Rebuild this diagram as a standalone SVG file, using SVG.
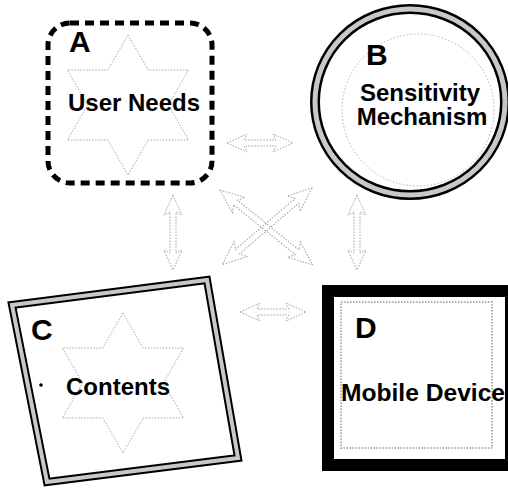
<svg xmlns="http://www.w3.org/2000/svg" width="508" height="489" viewBox="0 0 508 489">
<style>
  .lbl{font-family:"Liberation Sans",Arial,sans-serif;font-weight:bold;fill:#000}
  .big{font-size:30px}
  .txt{font-size:24px}
  .star{fill:none;stroke:#a8a8a8;stroke-width:1;stroke-dasharray:1.5 1.5}
  .conn{fill:none;stroke:#a0a0a0;stroke-width:1;stroke-dasharray:1.5 1.5}
</style>
<defs>
  <path id="star" d="M0,-70 L20.2,-35 L60.6,-35 L40.4,0 L60.6,35 L20.2,35 L0,70 L-20.2,35 L-60.6,35 L-40.4,0 L-60.6,-35 L-20.2,-35 Z"/>
</defs>
<rect width="508" height="489" fill="#fff"/>

<g id="connectors">
  <path class="conn" transform="translate(227,143)" d="M0,0 L20,-9 L17,-3 L49,-3 L46,-9 L66,0 L46,9 L49,3 L17,3 L20,9 Z"/>
  <path class="conn" transform="translate(240,312)" d="M0,0 L20,-9 L17,-3 L49,-3 L46,-9 L66,0 L46,9 L49,3 L17,3 L20,9 Z"/>
  <path class="conn" transform="translate(173,195) rotate(90)" d="M0,0 L20,-9 L17,-3 L58,-3 L55,-9 L75,0 L55,9 L58,3 L17,3 L20,9 Z"/>
  <path class="conn" transform="translate(357,195) rotate(90)" d="M0,0 L20,-9 L17,-3 L58,-3 L55,-9 L75,0 L55,9 L58,3 L17,3 L20,9 Z"/>
  <path class="conn" transform="translate(220,190) rotate(38.9)" d="M0,0 L24,-10 L20,-3 L99,-3 L95,-10 L119,0 L95,10 L99,3 L20,3 L24,10 Z"/>
  <path class="conn" transform="translate(312,188) rotate(139.5)" d="M0,0 L24,-10 L20,-3 L98,-3 L94,-10 L118,0 L94,10 L98,3 L20,3 L24,10 Z"/>
</g>

<g id="nodeA">
  <use href="#star" class="star" transform="translate(128,105)"/>
  <rect x="48" y="23" width="164" height="160" rx="22" fill="none" stroke="#000" stroke-width="5" stroke-dasharray="9 6"/>
  <text class="lbl big" x="69" y="52">A</text>
  <text class="lbl txt" x="134" y="111" text-anchor="middle">User Needs</text>
</g>

<g id="nodeB">
  <ellipse cx="418" cy="110" rx="76" ry="76" fill="none" stroke="#b0b0b0" stroke-width="1" stroke-dasharray="1.5 2"/>
  <ellipse cx="410" cy="102" rx="95" ry="93" fill="none" stroke="#000" stroke-width="10"/>
  <ellipse cx="410" cy="102" rx="95" ry="93" fill="none" stroke="#c8c8c8" stroke-width="5"/>
  <text class="lbl big" x="366" y="65">B</text>
  <text class="lbl txt" x="420" y="101" text-anchor="middle">Sensitivity</text>
  <text class="lbl txt" x="422" y="125" text-anchor="middle">Mechanism</text>
</g>

<g id="nodeC">
  <use href="#star" class="star" transform="translate(123,383)"/>
  <polygon points="12,305 207,280 238,458 47,482" fill="none" stroke="#000" stroke-width="8" stroke-linejoin="miter"/>
  <polygon points="12,305 207,280 238,458 47,482" fill="none" stroke="#c8c8c8" stroke-width="4"/>
  <text class="lbl big" x="31" y="340">C</text>
  <circle cx="41" cy="385" r="1.8" fill="#000"/>
  <text class="lbl txt" x="118" y="395" text-anchor="middle">Contents</text>
</g>

<g id="nodeD">
  <rect x="328" y="291" width="183" height="174" fill="#fff" stroke="#000" stroke-width="12"/>
  <rect x="341" y="302" width="151" height="146" fill="none" stroke="#b0b0b0" stroke-width="2" stroke-dasharray="1.5 1.5"/>
  <text class="lbl big" x="355" y="338">D</text>
  <text class="lbl" style="font-size:24.6px" x="341" y="401">Mobile Device</text>
</g>
</svg>
